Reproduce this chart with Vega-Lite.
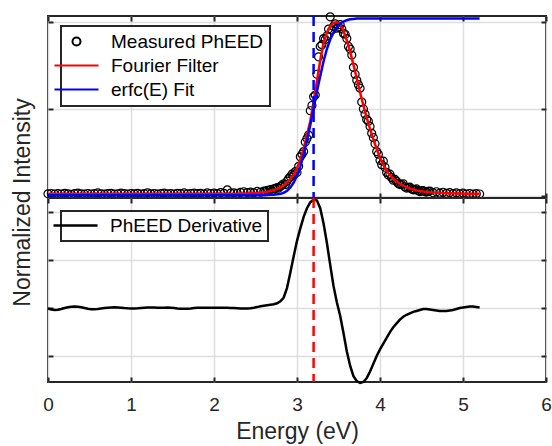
{
 "$schema": "https://vega.github.io/schema/vega-lite/v6.json",
 "background": "white",
 "padding": {"left": 9, "top": 9, "right": 2, "bottom": 2},
 "spacing": 0,
 "bounds": "flush",
 "config": {
  "font": "Liberation Sans",
  "view": {"stroke": "#262626", "strokeWidth": 2},
  "axis": {"domain": false, "gridColor": "#dedede", "gridWidth": 1.5, "tickColor": "#262626", "tickWidth": 2, "tickSize": -5, "labelColor": "#262626", "titleColor": "#262626", "labelFont": "Liberation Sans", "titleFont": "Liberation Sans", "labelFontSize": 19, "titleFontSize": 23, "titleFontWeight": "normal", "labelFlush": false, "labelOverlap": false},
  "legend": {"strokeWidth": 2, "cornerRadius": 0}
 },
 "datasets": {
  "curves": [
   {"E":0,"r":0.012,"b":0.004,"d":-0.005},{"E":0.04,"r":0.012,"b":0.004,"d":-0.015},{"E":0.08,"r":0.012,"b":0.004,"d":-0.02},{"E":0.12,"r":0.012,"b":0.004,"d":-0.018},{"E":0.16,"r":0.012,"b":0.004,"d":-0.01},{"E":0.2,"r":0.012,"b":0.004,"d":0},{"E":0.24,"r":0.012,"b":0.004,"d":0.008},{"E":0.28,"r":0.012,"b":0.004,"d":0.013},{"E":0.32,"r":0.012,"b":0.004,"d":0.015},{"E":0.36,"r":0.012,"b":0.004,"d":0.013},{"E":0.4,"r":0.012,"b":0.004,"d":0.008},{"E":0.44,"r":0.012,"b":0.004,"d":0},{"E":0.48,"r":0.012,"b":0.004,"d":-0.008},{"E":0.52,"r":0.012,"b":0.004,"d":-0.012},{"E":0.56,"r":0.012,"b":0.004,"d":-0.013},{"E":0.6,"r":0.012,"b":0.004,"d":-0.01},{"E":0.64,"r":0.012,"b":0.004,"d":-0.005},{"E":0.68,"r":0.012,"b":0.004,"d":0},{"E":0.72,"r":0.012,"b":0.004,"d":0.004},{"E":0.76,"r":0.012,"b":0.004,"d":0.007},{"E":0.8,"r":0.012,"b":0.004,"d":0.008},{"E":0.84,"r":0.012,"b":0.004,"d":0.007},{"E":0.88,"r":0.012,"b":0.004,"d":0.004},{"E":0.92,"r":0.012,"b":0.004,"d":0},{"E":0.96,"r":0.012,"b":0.004,"d":-0.003},{"E":1.0,"r":0.012,"b":0.004,"d":-0.005},{"E":1.04,"r":0.012,"b":0.004,"d":-0.005},{"E":1.08,"r":0.012,"b":0.004,"d":-0.003},{"E":1.12,"r":0.012,"b":0.004,"d":0},{"E":1.16,"r":0.012,"b":0.004,"d":0.003},{"E":1.2,"r":0.012,"b":0.004,"d":0.005},{"E":1.24,"r":0.012,"b":0.004,"d":0.006},{"E":1.28,"r":0.012,"b":0.004,"d":0.005},{"E":1.32,"r":0.012,"b":0.004,"d":0.003},{"E":1.36,"r":0.012,"b":0.004,"d":0.002},{"E":1.4,"r":0.012,"b":0.004,"d":0.003},{"E":1.44,"r":0.012,"b":0.004,"d":0.005},{"E":1.48,"r":0.012,"b":0.004,"d":0.004},{"E":1.52,"r":0.012,"b":0.004,"d":0},{"E":1.56,"r":0.012,"b":0.004,"d":-0.004},{"E":1.6,"r":0.012,"b":0.004,"d":-0.007},{"E":1.64,"r":0.012,"b":0.004,"d":-0.008},{"E":1.68,"r":0.012,"b":0.004,"d":-0.007},{"E":1.72,"r":0.012,"b":0.004,"d":-0.004},{"E":1.76,"r":0.012,"b":0.004,"d":0},{"E":1.8,"r":0.012,"b":0.004,"d":0.003},{"E":1.84,"r":0.012,"b":0.004,"d":0.004},{"E":1.88,"r":0.012,"b":0.004,"d":0.004},{"E":1.92,"r":0.012,"b":0.004,"d":0.003},{"E":1.96,"r":0.012,"b":0.004,"d":0.002},{"E":2.0,"r":0.012,"b":0.004,"d":0.002},{"E":2.04,"r":0.012,"b":0.004,"d":0.003},{"E":2.08,"r":0.012,"b":0.004,"d":0.004},{"E":2.12,"r":0.012,"b":0.004,"d":0.004},{"E":2.16,"r":0.012,"b":0.004,"d":0.003},{"E":2.2,"r":0.012,"b":0.004,"d":0.001},{"E":2.24,"r":0.013,"b":0.004,"d":0},{"E":2.28,"r":0.013,"b":0.004,"d":-0.002},{"E":2.32,"r":0.014,"b":0.004,"d":-0.004},{"E":2.36,"r":0.014,"b":0.004,"d":-0.005},{"E":2.4,"r":0.014,"b":0.004,"d":-0.004},{"E":2.44,"r":0.015,"b":0.004,"d":-0.001},{"E":2.48,"r":0.016,"b":0.004,"d":0.004},{"E":2.52,"r":0.017,"b":0.004,"d":0.01},{"E":2.56,"r":0.019,"b":0.004,"d":0.018},{"E":2.6,"r":0.021,"b":0.004,"d":0.025},{"E":2.64,"r":0.024,"b":0.005,"d":0.03},{"E":2.68,"r":0.028,"b":0.006,"d":0.035},{"E":2.72,"r":0.033,"b":0.007,"d":0.04},{"E":2.76,"r":0.04,"b":0.009,"d":0.05},{"E":2.8,"r":0.049,"b":0.012,"d":0.07},{"E":2.84,"r":0.062,"b":0.018,"d":0.11},{"E":2.88,"r":0.078,"b":0.03,"d":0.21},{"E":2.92,"r":0.098,"b":0.049,"d":0.37},{"E":2.96,"r":0.122,"b":0.077,"d":0.54},{"E":3.0,"r":0.16,"b":0.117,"d":0.7},{"E":3.04,"r":0.21,"b":0.17,"d":0.83},{"E":3.08,"r":0.27,"b":0.237,"d":0.95},{"E":3.12,"r":0.35,"b":0.317,"d":1.04},{"E":3.16,"r":0.43,"b":0.408,"d":1.1},{"E":3.2,"r":0.54,"b":0.505,"d":1.13},{"E":3.24,"r":0.66,"b":0.6,"d":1.12},{"E":3.28,"r":0.78,"b":0.69,"d":1.04},{"E":3.32,"r":0.88,"b":0.775,"d":0.88},{"E":3.36,"r":0.94,"b":0.845,"d":0.68},{"E":3.4,"r":0.975,"b":0.9,"d":0.45},{"E":3.44,"r":0.995,"b":0.94,"d":0.23},{"E":3.48,"r":1.0,"b":0.97,"d":0.06},{"E":3.52,"r":0.985,"b":0.99,"d":-0.08},{"E":3.56,"r":0.95,"b":1.003,"d":-0.26},{"E":3.6,"r":0.895,"b":1.011,"d":-0.45},{"E":3.64,"r":0.83,"b":1.016,"d":-0.6},{"E":3.68,"r":0.755,"b":1.018,"d":-0.71},{"E":3.72,"r":0.675,"b":1.02,"d":-0.76},{"E":3.76,"r":0.595,"b":1.02,"d":-0.78},{"E":3.8,"r":0.52,"b":1.02,"d":-0.77},{"E":3.84,"r":0.45,"b":1.02,"d":-0.73},{"E":3.88,"r":0.385,"b":1.02,"d":-0.66},{"E":3.92,"r":0.325,"b":1.02,"d":-0.58},{"E":3.96,"r":0.27,"b":1.02,"d":-0.5},{"E":4.0,"r":0.22,"b":1.02,"d":-0.43},{"E":4.04,"r":0.18,"b":1.02,"d":-0.37},{"E":4.08,"r":0.145,"b":1.02,"d":-0.31},{"E":4.12,"r":0.12,"b":1.02,"d":-0.25},{"E":4.16,"r":0.1,"b":1.02,"d":-0.2},{"E":4.2,"r":0.083,"b":1.02,"d":-0.16},{"E":4.24,"r":0.07,"b":1.02,"d":-0.12},{"E":4.28,"r":0.06,"b":1.02,"d":-0.09},{"E":4.32,"r":0.05,"b":1.02,"d":-0.07},{"E":4.36,"r":0.043,"b":1.02,"d":-0.055},{"E":4.4,"r":0.037,"b":1.02,"d":-0.04},{"E":4.44,"r":0.032,"b":1.02,"d":-0.03},{"E":4.48,"r":0.028,"b":1.02,"d":-0.02},{"E":4.52,"r":0.025,"b":1.02,"d":-0.01},{"E":4.56,"r":0.023,"b":1.02,"d":-0.01},{"E":4.6,"r":0.021,"b":1.02,"d":-0.015},{"E":4.64,"r":0.02,"b":1.02,"d":-0.02},{"E":4.68,"r":0.019,"b":1.02,"d":-0.025},{"E":4.72,"r":0.018,"b":1.02,"d":-0.03},{"E":4.76,"r":0.017,"b":1.02,"d":-0.03},{"E":4.8,"r":0.016,"b":1.02,"d":-0.03},{"E":4.84,"r":0.015,"b":1.02,"d":-0.025},{"E":4.88,"r":0.015,"b":1.02,"d":-0.02},{"E":4.92,"r":0.014,"b":1.02,"d":-0.01},{"E":4.96,"r":0.014,"b":1.02,"d":0},{"E":5.0,"r":0.014,"b":1.02,"d":0.005},{"E":5.04,"r":0.013,"b":1.02,"d":0.01},{"E":5.08,"r":0.013,"b":1.02,"d":0.015},{"E":5.12,"r":0.013,"b":1.02,"d":0.015},{"E":5.16,"r":0.013,"b":1.02,"d":0.01},{"E":5.2,"r":0.013,"b":1.02,"d":0.005}
  ],
  "meas": [
   {"E":0,"m":0.012},{"E":0.04,"m":0.014},{"E":0.08,"m":0.01},{"E":0.12,"m":0.013},{"E":0.16,"m":0.011},{"E":0.2,"m":0.015},{"E":0.24,"m":0.012},{"E":0.28,"m":0.009},{"E":0.32,"m":0.013},{"E":0.36,"m":0.016},{"E":0.4,"m":0.012},{"E":0.44,"m":0.01},{"E":0.48,"m":0.014},{"E":0.52,"m":0.011},{"E":0.56,"m":0.013},{"E":0.6,"m":0.017},{"E":0.64,"m":0.012},{"E":0.68,"m":0.01},{"E":0.72,"m":0.013},{"E":0.76,"m":0.015},{"E":0.8,"m":0.011},{"E":0.84,"m":0.012},{"E":0.88,"m":0.016},{"E":0.92,"m":0.013},{"E":0.96,"m":0.01},{"E":1.0,"m":0.014},{"E":1.04,"m":0.012},{"E":1.08,"m":0.015},{"E":1.12,"m":0.011},{"E":1.16,"m":0.013},{"E":1.2,"m":0.018},{"E":1.24,"m":0.012},{"E":1.28,"m":0.014},{"E":1.32,"m":0.01},{"E":1.36,"m":0.013},{"E":1.4,"m":0.016},{"E":1.44,"m":0.012},{"E":1.48,"m":0.014},{"E":1.52,"m":0.011},{"E":1.56,"m":0.015},{"E":1.6,"m":0.013},{"E":1.64,"m":0.017},{"E":1.68,"m":0.012},{"E":1.72,"m":0.014},{"E":1.76,"m":0.016},{"E":1.8,"m":0.013},{"E":1.84,"m":0.015},{"E":1.88,"m":0.011},{"E":1.92,"m":0.018},{"E":1.96,"m":0.014},{"E":2.0,"m":0.016},{"E":2.04,"m":0.013},{"E":2.08,"m":0.019},{"E":2.12,"m":0.015},{"E":2.16,"m":0.035},{"E":2.2,"m":0.016},{"E":2.24,"m":0.018},{"E":2.28,"m":0.015},{"E":2.32,"m":0.02},{"E":2.36,"m":0.024},{"E":2.4,"m":0.019},{"E":2.44,"m":0.022},{"E":2.48,"m":0.018},{"E":2.52,"m":0.026},{"E":2.56,"m":0.021},{"E":2.6,"m":0.028},{"E":2.64,"m":0.032},{"E":2.68,"m":0.037},{"E":2.72,"m":0.041},{"E":2.76,"m":0.048},{"E":2.8,"m":0.055},{"E":2.84,"m":0.07},{"E":2.88,"m":0.085},{"E":2.92,"m":0.11},{"E":2.96,"m":0.12},{"E":3.0,"m":0.135},{"E":3.04,"m":0.225},{"E":3.08,"m":0.255},{"E":3.12,"m":0.33},{"E":3.16,"m":0.49},{"E":3.2,"m":0.57},{"E":3.24,"m":0.7},{"E":3.28,"m":0.86},{"E":3.32,"m":0.905},{"E":3.36,"m":0.92},{"E":3.4,"m":1.03},{"E":3.44,"m":0.975},{"E":3.48,"m":0.965},{"E":3.52,"m":0.985},{"E":3.56,"m":0.935},{"E":3.6,"m":0.905},{"E":3.64,"m":0.845},{"E":3.68,"m":0.74},{"E":3.72,"m":0.665},{"E":3.76,"m":0.62},{"E":3.8,"m":0.5},{"E":3.84,"m":0.44},{"E":3.88,"m":0.4},{"E":3.92,"m":0.335},{"E":3.96,"m":0.255},{"E":4.0,"m":0.205},{"E":4.04,"m":0.2},{"E":4.08,"m":0.135},{"E":4.12,"m":0.125},{"E":4.16,"m":0.09},{"E":4.2,"m":0.085},{"E":4.24,"m":0.065},{"E":4.28,"m":0.07},{"E":4.32,"m":0.045},{"E":4.36,"m":0.05},{"E":4.4,"m":0.035},{"E":4.44,"m":0.04},{"E":4.48,"m":0.025},{"E":4.52,"m":0.03},{"E":4.56,"m":0.022},{"E":4.6,"m":0.028},{"E":4.64,"m":0.018},{"E":4.68,"m":0.024},{"E":4.72,"m":0.016},{"E":4.76,"m":0.021},{"E":4.8,"m":0.015},{"E":4.84,"m":0.019},{"E":4.88,"m":0.013},{"E":4.92,"m":0.017},{"E":4.96,"m":0.012},{"E":5.0,"m":0.016},{"E":5.04,"m":0.011},{"E":5.08,"m":0.014},{"E":5.12,"m":0.01},{"E":5.16,"m":0.013},{"E":5.2,"m":0.011},
   {"E":2.62,"m":0.025},{"E":2.66,"m":0.03},{"E":2.7,"m":0.028},{"E":2.74,"m":0.042},{"E":2.78,"m":0.045},{"E":2.82,"m":0.062},{"E":2.86,"m":0.065},{"E":2.9,"m":0.1},{"E":2.94,"m":0.125},{"E":2.98,"m":0.14},{"E":3.02,"m":0.17},{"E":3.06,"m":0.24},{"E":3.1,"m":0.31},{"E":3.14,"m":0.35},{"E":3.18,"m":0.52},{"E":3.22,"m":0.58},{"E":3.26,"m":0.8},{"E":3.3,"m":0.87},{"E":3.34,"m":0.9},{"E":3.38,"m":0.96},{"E":3.42,"m":0.955},{"E":3.46,"m":0.99},{"E":3.5,"m":0.97},{"E":3.54,"m":0.96},{"E":3.58,"m":0.93},{"E":3.62,"m":0.86},{"E":3.66,"m":0.81},{"E":3.7,"m":0.7},{"E":3.74,"m":0.64},{"E":3.78,"m":0.54},{"E":3.82,"m":0.47},{"E":3.86,"m":0.43},{"E":3.9,"m":0.36},{"E":3.94,"m":0.3},{"E":3.98,"m":0.24},{"E":4.02,"m":0.18},{"E":4.06,"m":0.165},{"E":4.1,"m":0.12},{"E":4.14,"m":0.105},{"E":4.18,"m":0.095},{"E":4.22,"m":0.072},{"E":4.26,"m":0.066},{"E":4.3,"m":0.052},{"E":4.34,"m":0.048},{"E":4.38,"m":0.04},{"E":4.42,"m":0.036},{"E":4.46,"m":0.03},{"E":4.5,"m":0.029},{"E":4.54,"m":0.024},{"E":4.58,"m":0.026}
  ]
 },
 "resolve": {"scale": {"color": "independent", "shape": "independent"}, "legend": {"color": "independent", "shape": "independent"}},
 "vconcat": [
  {
   "width": 498, "height": 182,
   "resolve": {"axis": {"x": "independent", "y": "independent"}},
   "layer": [
    {
     "data": {"name": "meas"},
     "mark": {"type": "point", "filled": false, "size": 64, "strokeWidth": 1.2, "opacity": 1},
     "encoding": {
      "x": {"field": "E", "type": "quantitative", "scale": {"domain": [0, 6], "nice": false}, "axis": {"orient": "bottom", "values": [0,1,2,3,4,5,6], "labels": false, "grid": true, "title": null}},
      "y": {"field": "m", "type": "quantitative", "scale": {"domain": [-0.012, 1.035], "nice": false, "zero": false}, "axis": {"orient": "left", "values": [0, 0.5, 1], "labels": false, "grid": true, "title": "Normalized Intensity", "titleX": -14, "titleY": 186, "titleAlign": "center", "titleBaseline": "bottom", "titleAngle": 270}},
      "color": {"datum": "Measured PhEED", "type": "nominal",
       "scale": {"domain": ["Measured PhEED", "Fourier Filter", "erfc(E) Fit"], "range": ["#000000", "#ff0000", "#0000ff"]},
       "legend": {"orient": "none", "legendX": 13, "legendY": 10, "title": null, "direction": "vertical", "strokeColor": "#262626", "fillColor": "#ffffff", "padding": 6, "symbolSize": 64, "symbolStrokeWidth": 2, "labelFontSize": 19, "labelFont": "Liberation Sans", "labelColor": "#000000", "labelOffset": 25, "rowPadding": 4}},
      "shape": {"datum": "Measured PhEED", "type": "nominal",
       "scale": {"domain": ["Measured PhEED", "Fourier Filter", "erfc(E) Fit"], "range": ["circle", "M-5.5,0L5.5,0", "M-5.5,0L5.5,0"]},
       "legend": {"orient": "none", "legendX": 13, "legendY": 10, "title": null, "direction": "vertical", "strokeColor": "#262626", "fillColor": "#ffffff", "padding": 6, "symbolSize": 64, "symbolStrokeWidth": 2, "labelFontSize": 19, "labelFont": "Liberation Sans", "labelColor": "#000000", "labelOffset": 25, "rowPadding": 4}}
     }
    },
    {
     "data": {"name": "curves"},
     "mark": {"type": "line", "strokeWidth": 2.5},
     "encoding": {
      "x": {"field": "E", "type": "quantitative", "axis": {"orient": "top", "values": [0,1,2,3,4,5,6], "labels": false, "grid": false, "title": null}},
      "y": {"field": "r", "type": "quantitative", "axis": {"orient": "right", "values": [0, 0.5, 1], "labels": false, "grid": false, "title": null}},
      "color": {"datum": "Fourier Filter", "type": "nominal"}
     }
    },
    {
     "data": {"name": "curves"},
     "mark": {"type": "line", "strokeWidth": 2.5},
     "encoding": {
      "x": {"field": "E", "type": "quantitative", "axis": null},
      "y": {"field": "b", "type": "quantitative", "axis": null},
      "color": {"datum": "erfc(E) Fit", "type": "nominal"}
     }
    },
    {
     "data": {"values": [{}]},
     "mark": {"type": "rule", "color": "#0000ff", "strokeWidth": 2.5, "strokeDash": [10, 6]},
     "encoding": {"x": {"datum": 3.2, "type": "quantitative", "axis": null}}
    }
   ]
  },
  {
   "width": 498, "height": 184,
   "resolve": {"axis": {"x": "independent", "y": "independent"}},
   "layer": [
    {
     "data": {"name": "curves"},
     "mark": {"type": "line", "strokeWidth": 2.5},
     "encoding": {
      "x": {"field": "E", "type": "quantitative", "scale": {"domain": [0, 6], "nice": false}, "axis": {"orient": "bottom", "values": [0,1,2,3,4,5,6], "grid": true, "title": "Energy (eV)", "labelPadding": 18, "titlePadding": 6}},
      "y": {"field": "d", "type": "quantitative", "scale": {"domain": [-0.77, 1.146], "nice": false, "zero": false}, "axis": {"orient": "left", "values": [-0.5, 0, 0.5, 1], "labels": false, "grid": true, "title": null}},
      "color": {"datum": "PhEED Derivative", "type": "nominal",
       "scale": {"domain": ["PhEED Derivative"], "range": ["#000000"]},
       "legend": {"orient": "none", "legendX": 13, "legendY": 13, "title": null, "strokeColor": "#262626", "fillColor": "#ffffff", "padding": 5, "symbolType": "M-5.5,0L5.5,0", "symbolSize": 64, "symbolStrokeWidth": 2.5, "labelFontSize": 19, "labelFont": "Liberation Sans", "labelColor": "#000000", "labelOffset": 25}}
     }
    },
    {
     "data": {"name": "curves"},
     "mark": {"type": "line", "opacity": 0},
     "encoding": {
      "x": {"field": "E", "type": "quantitative", "axis": {"orient": "top", "values": [0,1,2,3,4,5,6], "labels": false, "grid": false, "title": null}},
      "y": {"field": "d", "type": "quantitative", "axis": {"orient": "right", "values": [-0.5, 0, 0.5, 1], "labels": false, "grid": false, "title": null}}
     }
    },
    {
     "data": {"values": [{}]},
     "mark": {"type": "rule", "color": "#ff0000", "strokeWidth": 2.5, "strokeDash": [10, 6]},
     "encoding": {"x": {"datum": 3.2, "type": "quantitative", "axis": null}}
    }
   ]
  }
 ]
}
